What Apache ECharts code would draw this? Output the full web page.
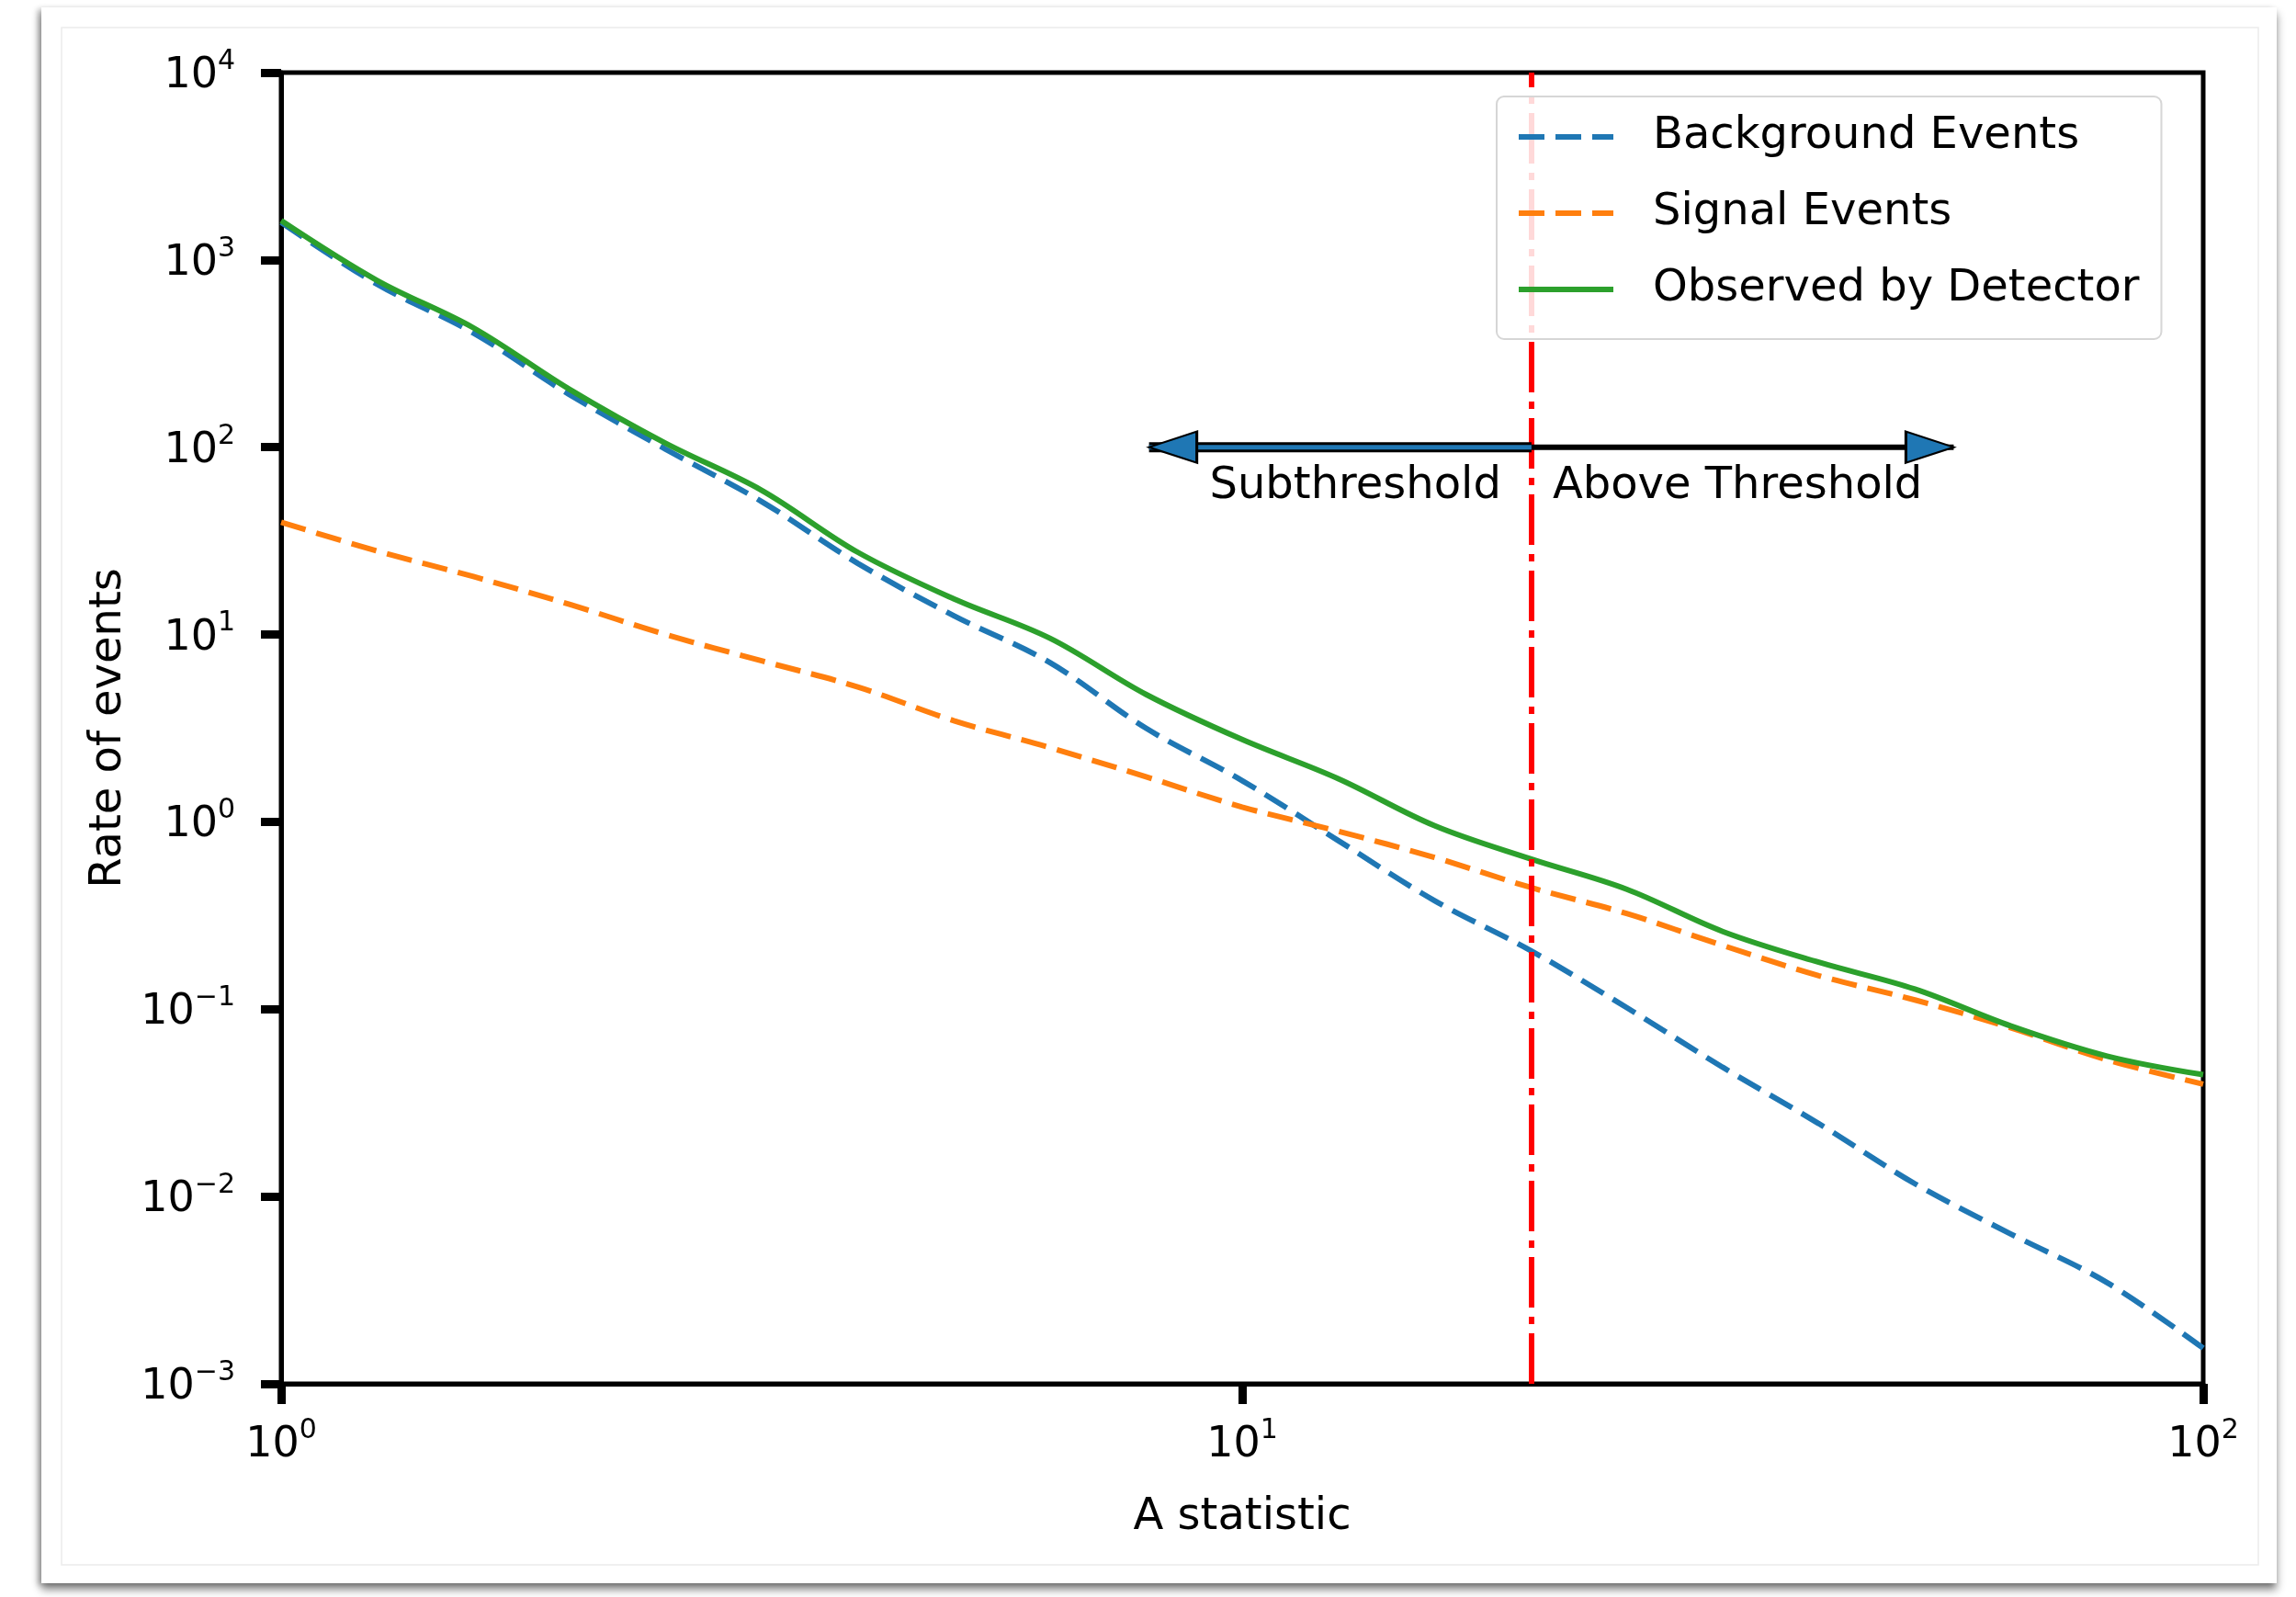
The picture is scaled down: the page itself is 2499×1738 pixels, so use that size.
<!DOCTYPE html>
<html>
<head>
<meta charset="utf-8">
<script src="https://cdn.jsdelivr.net/npm/echarts@6/dist/echarts.min.js"></script>
<style>
  html, body { margin: 0; padding: 0; background: #ffffff; width: 2499px; height: 1738px; overflow: hidden; }
  #card { position: absolute; left: 45px; top: 8px; width: 2433px; height: 1715px; background: #fff;
          box-shadow: 0 7px 9px rgba(0,0,0,0.45), -4px 2px 6px rgba(0,0,0,0.25); }
  #chart { position: absolute; left: 0; top: 0; width: 2499px; height: 1738px; }
</style>
</head>
<body>
<div id="card"></div>
<div id="chart"></div>
<script>
// ---- data ----
const xValues = [1, 1.259, 1.585, 1.995, 2.512, 3.162, 3.981, 5.012, 6.310, 7.943, 10,
                 12.59, 15.85, 19.95, 25.12, 31.62, 39.81, 50.12, 63.10, 79.43, 100];
const backgroundEvents = [1585, 741, 407, 191, 97.7, 51.3, 24.0, 12.6, 7.08, 3.16, 1.66,
                          0.794, 0.380, 0.206, 0.102, 0.049, 0.0245, 0.0117, 0.0063, 0.00347, 0.00155];
const signalEvents = [39.8, 27.9, 20.4, 14.5, 10.0, 7.24, 5.25, 3.47, 2.49, 1.74, 1.20,
                      0.891, 0.646, 0.447, 0.324, 0.219, 0.151, 0.112, 0.0794, 0.0537, 0.0398];
const observedEvents = [1622, 776, 434, 204, 105, 58.9, 27.5, 15.5, 9.55, 4.79, 2.75,
                        1.70, 0.955, 0.635, 0.437, 0.260, 0.178, 0.128, 0.0813, 0.0562, 0.0447];
const seriesNames = ['Background Events', 'Signal Events', 'Observed by Detector'];
const xTickExponents = [0, 1, 2];
const yTickExponents = [-3, -2, -1, 0, 1, 2, 3, 4];
const threshold = 20;
const arrowY = 100;
const arrowLeftTip = 8;
const arrowRightTip = 55;
const labelY = 62;
const annotationTexts = ['Subthreshold', 'Above Threshold'];
const axisNames = { x: 'A statistic', y: 'Rate of events' };

const FONT = '"DejaVu Sans", sans-serif';
const zip = (xs, ys) => xs.map((x, i) => [x, ys[i]]);
const expText = e => (e < 0 ? '\u2212' + Math.abs(e) : String(e));
const tickFmt = v => {
  const e = Math.round(Math.log10(v));
  return '{b|10}{s|' + expText(e) + '}';
};
const tickRich = {
  b: { fontSize: 46, lineHeight: 54, verticalAlign: 'bottom', color: '#000', fontFamily: FONT },
  s: { fontSize: 30, lineHeight: 28, verticalAlign: 'top', color: '#000', fontFamily: FONT }
};
const DASH = [28, 12];

const chart = echarts.init(document.getElementById('chart'), null, { renderer: 'canvas' });
chart.setOption({
  backgroundColor: 'transparent',
  animation: false,
  graphic: [{
    type: 'rect', shape: { x: 67, y: 30, width: 2391, height: 1673 },
    style: { fill: 'none', stroke: '#ececec', lineWidth: 1.5 }, z: -10
  }],
  grid: { left: 306, right: 101, top: 79, bottom: 232, show: true,
          borderColor: '#000', borderWidth: 5, backgroundColor: 'transparent' },
  legend: {
    data: seriesNames,
    orient: 'vertical', left: 1629, top: 105,
    padding: [16, 24, 26, 21],
    itemWidth: 103, itemHeight: 14, itemGap: 27,
    itemStyle: { opacity: 0 },
    lineStyle: { width: 6 },
    backgroundColor: 'rgba(255,255,255,0.85)',
    borderColor: '#d6d6d6', borderWidth: 2, borderRadius: 8,
    textStyle: { fontSize: 48, lineHeight: 56, fontFamily: FONT, color: '#000', padding: [0, 0, 0, 38] },
    z: 20
  },
  xAxis: {
    type: 'log', logBase: 10, min: 1, max: 100,
    name: axisNames.x, nameLocation: 'middle', nameGap: 122,
    nameTextStyle: { fontSize: 48, fontFamily: FONT, color: '#000' },
    axisLine: { show: true, lineStyle: { color: '#000', width: 5 } },
    axisTick: { show: true, length: 22, lineStyle: { color: '#000', width: 9 } },
    axisLabel: { margin: 36, formatter: tickFmt, rich: tickRich },
    splitLine: { show: false }
  },
  yAxis: {
    type: 'log', logBase: 10, min: 0.001, max: 10000, splitNumber: 7,
    name: axisNames.y, nameLocation: 'middle', nameGap: 162,
    nameTextStyle: { fontSize: 48, fontFamily: FONT, color: '#000' },
    axisLine: { show: true, lineStyle: { color: '#000', width: 5 } },
    axisTick: { show: true, length: 22, lineStyle: { color: '#000', width: 9 } },
    axisLabel: { margin: 50, formatter: tickFmt, rich: tickRich },
    splitLine: { show: false }
  },
  series: [
    {
      name: seriesNames[0], type: 'line', data: zip(xValues, backgroundEvents),
      smooth: 0.35, symbol: 'none', z: 3,
      lineStyle: { color: '#1f77b4', width: 6, type: DASH },
      itemStyle: { color: '#1f77b4' }
    },
    {
      name: seriesNames[1], type: 'line', data: zip(xValues, signalEvents),
      smooth: 0.35, symbol: 'none', z: 3,
      lineStyle: { color: '#ff7f0e', width: 6, type: DASH },
      itemStyle: { color: '#ff7f0e' }
    },
    {
      name: seriesNames[2], type: 'line', data: zip(xValues, observedEvents),
      smooth: 0.35, symbol: 'none', z: 4,
      lineStyle: { color: '#2ca02c', width: 6, type: 'solid' },
      itemStyle: { color: '#2ca02c' },
      markLine: {
        silent: true, symbol: 'none', label: { show: false },
        lineStyle: { color: '#ff0000', width: 6, type: [55, 10, 8, 10] },
        data: [{ xAxis: threshold }]
      }
    },
    // arrow shafts
    {
      name: 'shaftLeftOutline', type: 'line', data: [[arrowLeftTip, arrowY], [threshold, arrowY]],
      symbol: 'none', silent: true, z: 6, lineStyle: { color: '#000', width: 11 }
    },
    {
      name: 'shaftLeftFill', type: 'line', data: [[arrowLeftTip, arrowY], [threshold, arrowY]],
      symbol: 'none', silent: true, z: 7, lineStyle: { color: '#1f77b4', width: 5 }
    },
    {
      name: 'shaftRight', type: 'line', data: [[threshold, arrowY], [arrowRightTip, arrowY]],
      symbol: 'none', silent: true, z: 6, lineStyle: { color: '#000', width: 6 }
    },
    // arrow heads
    {
      name: 'arrowHeads', type: 'scatter', silent: true, z: 8,
      data: [
        { value: [arrowLeftTip, arrowY], symbol: 'path://M1,0 L0,0.5 L1,1 Z', symbolOffset: [26, 0] },
        { value: [arrowRightTip, arrowY], symbol: 'path://M0,0 L1,0.5 L0,1 Z', symbolOffset: [-26, 0] }
      ],
      symbolSize: [52, 34],
      itemStyle: { color: '#1f77b4', borderColor: '#000', borderWidth: 2.5, opacity: 1 }
    },
    // annotation texts
    {
      name: 'annotations', type: 'scatter', silent: true, z: 9, symbolSize: 0,
      itemStyle: { opacity: 1 },
      data: [
        { value: [threshold, labelY], label: { show: true, position: 'left', distance: 33,
            formatter: annotationTexts[0], fontSize: 48, fontFamily: FONT, color: '#000' } },
        { value: [threshold, labelY], label: { show: true, position: 'right', distance: 23,
            formatter: annotationTexts[1], fontSize: 48, fontFamily: FONT, color: '#000' } }
      ]
    }
  ]
});
</script>
</body>
</html>
